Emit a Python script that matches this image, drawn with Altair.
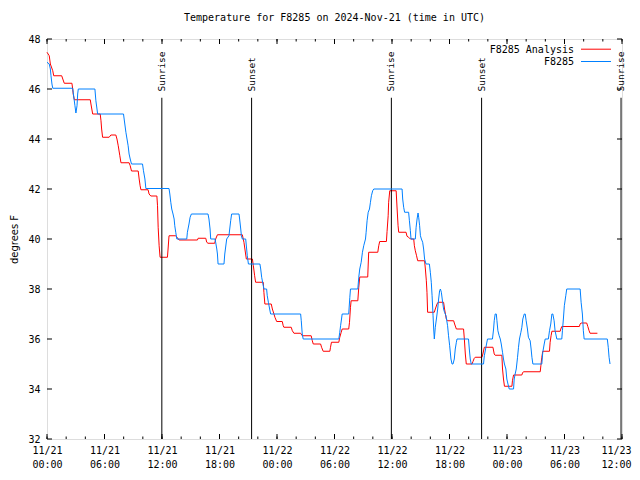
import json
import altair as alt
import pandas as pd

# ---- data (minutes since 2024-11-21 00:00 UTC, degrees F) ----
red_t = [0, 14, 21, 36, 42, 92, 108, 156, 161, 164, 171, 271, 275, 286, 333, 338, 342, 348, 389, 400,
         431, 438, 446, 456, 463, 514, 521, 529, 571, 577, 583, 588, 633, 639, 650, 688, 692, 696, 702, 708,
         754, 758, 764, 806, 827, 942, 946, 994, 1000, 1008, 1050, 1056, 1067, 1223, 1233, 1239, 1248, 1286,
         1292, 1300, 1306, 1354, 1358, 1364, 1404, 1411, 1421, 1427, 1438, 1473, 1479, 1483, 1529, 1536,
         1546, 1588, 1598, 1654, 1661, 1667, 1713, 1719, 1729, 1771, 1775, 1781, 1827, 1833, 1842, 1848,
         1889, 1894, 1900, 1904, 1946, 1952, 1958, 2008, 2014, 2071, 2077, 2083, 2125, 2129, 2136, 2139,
         2146, 2186, 2192, 2198, 2202, 2248, 2254, 2264, 2275, 2296, 2300, 2306, 2313, 2321, 2364, 2369,
         2375, 2379, 2383, 2425, 2431, 2442, 2448, 2483, 2489, 2500, 2508, 2546, 2552, 2563, 2608, 2613,
         2619, 2625, 2661, 2667, 2675, 2681, 2723, 2729, 2738, 2792, 2800, 2806, 2848, 2852, 2858, 2864,
         2911, 2914, 2921, 2973, 2977, 2983, 3088, 3092, 3098, 3104, 3146, 3150, 3156, 3161, 3213, 3217,
         3223, 3333, 3338, 3344, 3379, 3386, 3394, 3400, 3446]
red_v = [47.47, 47.33, 47.0, 46.73, 46.53, 46.53, 46.23, 46.23, 46.0, 45.8, 45.57, 45.57, 45.4, 45.0, 45.0,
         44.73, 44.4, 44.07, 44.07, 44.16, 44.16, 44.0, 43.73, 43.33, 43.05, 43.05, 42.93, 42.72, 42.72,
         42.4, 42.13, 41.97, 41.97, 41.8, 41.72, 41.72, 41.33, 40.47, 39.73, 39.27, 39.27, 39.6, 40.13,
         40.13, 39.96, 39.96, 40.03, 40.03, 39.87, 39.83, 39.83, 40.0, 40.17, 40.17, 39.87, 39.6, 39.2,
         39.2, 38.93, 38.53, 38.27, 38.27, 37.87, 37.4, 37.4, 37.2, 37.0, 36.87, 36.7, 36.7, 36.53, 36.47,
         36.47, 36.33, 36.23, 36.23, 36.13, 36.13, 35.93, 35.8, 35.8, 35.67, 35.51, 35.51, 35.67, 35.87,
         35.87, 36.07, 36.27, 36.4, 36.4, 36.67, 37.27, 37.53, 37.53, 38.07, 38.48, 38.48, 39.47, 39.47,
         39.73, 39.9, 39.9, 40.3, 40.93, 41.47, 41.93, 41.93, 41.2, 40.53, 40.27, 40.27, 40.11, 40.07,
         40.0, 40.0, 39.73, 39.53, 39.35, 39.13, 39.13, 38.8, 38.33, 37.87, 37.07, 37.07, 37.2, 37.4,
         37.47, 37.47, 37.2, 36.8, 36.73, 36.73, 36.6, 36.4, 36.4, 36.0, 35.4, 35.0, 35.0, 35.1, 35.23,
         35.27, 35.27, 35.4, 35.67, 35.67, 35.4, 35.35, 35.35, 34.8, 34.4, 34.11, 34.11, 34.33, 34.56,
         34.56, 34.64, 34.69, 34.69, 34.93, 35.27, 35.51, 35.51, 35.87, 36.13, 36.31, 36.31, 36.4, 36.5,
         36.5, 36.6, 36.64, 36.64, 36.5, 36.33, 36.23, 36.23]

blue_t = [0, 14, 21, 25, 31, 36, 161, 164, 175, 181, 188, 192, 196, 300, 306, 313, 317, 479, 483, 494,
          508, 514, 521, 529, 598, 604, 613, 619, 764, 769, 775, 781, 789, 796, 800, 806, 813, 875, 879,
          889, 896, 904, 1008, 1014, 1021, 1025, 1052, 1056, 1063, 1067, 1071, 1108, 1113, 1125, 1139,
          1144, 1150, 1156, 1202, 1206, 1213, 1217, 1223, 1244, 1250, 1254, 1261, 1333, 1338, 1344, 1352,
          1358, 1375, 1379, 1386, 1394, 1400, 1588, 1592, 1598, 1604, 1827, 1833, 1838, 1844, 1848, 1889,
          1896, 1900, 1946, 1952, 1958, 1967, 1975, 1983, 1994, 1998, 2004, 2011, 2019, 2025, 2031, 2039,
          2046, 2223, 2227, 2233, 2239, 2264, 2269, 2275, 2279, 2306, 2311, 2317, 2323, 2327, 2333, 2338,
          2344, 2352, 2358, 2364, 2373, 2394, 2400, 2406, 2411, 2417, 2421, 2425, 2431, 2438, 2446, 2452,
          2458, 2463, 2469, 2477, 2483, 2489, 2498, 2508, 2514, 2521, 2529, 2536, 2542, 2550, 2556, 2563,
          2567, 2639, 2644, 2650, 2656, 2733, 2738, 2748, 2758, 2789, 2796, 2800, 2806, 2813, 2817, 2823,
          2831, 2838, 2844, 2852, 2858, 2864, 2873, 2879, 2886, 2894, 2921, 2925, 2931, 2938, 2946, 2952,
          2958, 2967, 2973, 2979, 2988, 2994, 3000, 3008, 3014, 3025, 3031, 3036, 3042, 3098, 3104, 3113,
          3119, 3139, 3146, 3154, 3161, 3167, 3175, 3181, 3192, 3223, 3227, 3233, 3239, 3248, 3254, 3338,
          3344, 3352, 3358, 3363, 3508, 3514, 3519, 3525]
blue_v = [47.07, 47.0, 46.8, 46.53, 46.2, 46.03, 46.03, 45.87, 45.33, 45.04, 45.33, 45.8, 46.0, 46.0,
          45.53, 45.2, 45.0, 45.0, 44.8, 44.27, 43.73, 43.4, 43.2, 43.0, 43.0, 42.73, 42.4, 42.02, 42.02,
          41.8, 41.47, 41.2, 41.0, 40.8, 40.53, 40.27, 40.0, 40.0, 40.27, 40.6, 40.87, 41.0, 41.0, 40.8,
          40.4, 40.0, 40.0, 39.87, 39.6, 39.4, 39.0, 39.0, 39.4, 40.0, 40.13, 40.4, 40.73, 41.0, 41.0,
          40.8, 40.4, 40.13, 40.0, 40.0, 39.6, 39.33, 39.0, 39.0, 38.8, 38.47, 38.2, 38.0, 38.0, 37.73,
          37.47, 37.2, 37.0, 37.0, 36.73, 36.2, 36.0, 36.0, 36.27, 36.53, 36.8, 37.0, 37.0, 37.67, 38.0,
          38.0, 38.47, 38.8, 39.07, 39.47, 39.73, 40.0, 40.27, 40.73, 41.07, 41.2, 41.47, 41.73, 41.93,
          42.0, 42.0, 41.6, 41.27, 41.07, 41.07, 40.73, 40.33, 40.0, 40.0, 40.47, 40.8, 41.04, 40.87,
          40.53, 40.13, 40.0, 39.87, 39.6, 39.2, 39.0, 39.0, 38.67, 38.27, 37.73, 36.93, 36.4, 36.0,
          36.47, 36.8, 37.2, 37.6, 37.93, 38.0, 37.87, 37.47, 37.2, 37.07, 36.93, 36.53, 36.13, 35.73,
          35.2, 35.0, 35.0, 35.2, 35.6, 35.87, 36.0, 36.0, 35.6, 35.2, 35.0, 35.0, 35.33, 35.67, 36.0,
          36.0, 36.4, 36.73, 37.0, 37.0, 36.73, 36.33, 36.13, 36.0, 35.8, 35.47, 35.2, 35.0, 34.8, 34.4,
          34.2, 34.0, 34.0, 34.4, 34.6, 34.8, 35.27, 35.67, 36.0, 36.27, 36.47, 36.8, 37.0, 37.0, 36.73,
          36.4, 36.07, 35.93, 35.6, 35.27, 35.0, 35.0, 35.47, 35.8, 36.0, 36.0, 36.33, 36.6, 37.0, 37.0,
          36.73, 36.33, 36.0, 36.0, 36.33, 36.8, 37.33, 37.73, 38.0, 38.0, 37.47, 37.0, 36.33, 36.0,
          36.0, 35.67, 35.27, 35.0]

sun_t = [719, 1281, 2156, 2721, 3594]
sun_label = ["Sunrise", "Sunset", "Sunrise", "Sunset", "Sunrise"]

y_ticks = [32, 34, 36, 38, 40, 42, 44, 46, 48]
x_major = list(range(0, 3601, 360))
x_minor = list(range(0, 3601, 120))
x_labels = ["11/21 00:00", "11/21 06:00", "11/21 12:00", "11/21 18:00", "11/22 00:00",
            "11/22 06:00", "11/22 12:00", "11/22 18:00", "11/23 00:00", "11/23 06:00", "11/23 12:00"]

title_text = "Temperature for F8285 on 2024-Nov-21 (time in UTC)"
series = ["F8285 Analysis", "F8285"]
colors = ["#ff0000", "#0080ff"]

MONO = "DejaVu Sans Mono"
W, H = 575, 400

red_df = pd.DataFrame({"t": red_t, "v": red_v})
blue_df = pd.DataFrame({"t": blue_t, "v": blue_v})
sun_df = pd.DataFrame({"t": sun_t, "label": sun_label})
yt_df = pd.DataFrame({"v": y_ticks})
xmaj_df = pd.DataFrame({"t": x_major})
xmin_df = pd.DataFrame({"t": x_minor})

xscale = alt.Scale(domain=[0, 3600], nice=False, zero=False)
yscale = alt.Scale(domain=[32, 48], nice=False, zero=False)

label_expr = "split(" + json.dumps(x_labels) + "[round(datum.value/360)], ' ')"

x_axis = alt.Axis(values=x_major, labelExpr=label_expr, tickSize=0, ticks=False, domain=False, grid=False,
                  labelFont=MONO, labelFontSize=10, labelColor="black", labelPadding=6,
                  labelLineHeight=14, labelOverlap=False, labelFlush=False, title=None,
                  labelOffset={"condition": {"test": "datum.value >= 3600", "value": -6}, "value": 0})
y_axis = alt.Axis(values=y_ticks, format="d", tickSize=0, ticks=False, domain=False, grid=False,
                  labelFont=MONO, labelFontSize=10, labelColor="black", labelPadding=7,
                  title="degrees F", titleFont="DejaVu Sans", titleFontSize=10,
                  titleFontWeight="normal", titleColor="black", titlePadding=8)

X = alt.X("t:Q", scale=xscale)
Y = alt.Y("v:Q", scale=yscale)

red_line = alt.Chart(red_df).mark_line(color=colors[0], strokeWidth=1).encode(
    x=alt.X("t:Q", scale=xscale, axis=x_axis),
    y=alt.Y("v:Q", scale=yscale, axis=y_axis),
)
blue_line = alt.Chart(blue_df).mark_line(color=colors[1], strokeWidth=1).encode(x=X, y=Y)

sun_rules = alt.Chart(sun_df).mark_rule(color="black", strokeWidth=1).encode(
    x=X, y=alt.datum(32, scale=yscale), y2=alt.datum(45.65),
)
sun_text = alt.Chart(sun_df).mark_text(angle=270, align="left", baseline="middle", font=MONO,
                                       fontSize=9.5, color="black").encode(
    x=X, y=alt.datum(45.9, scale=yscale), text="label:N",
)

# inward ticks on all four sides
yt_left = alt.Chart(yt_df).mark_rule(color="black").encode(y=Y, x=alt.value(0), x2=alt.value(5))
yt_right = alt.Chart(yt_df).mark_rule(color="black").encode(y=Y, x=alt.value(W), x2=alt.value(W - 5))
xmaj_bot = alt.Chart(xmaj_df).mark_rule(color="black").encode(x=X, y=alt.value(H), y2=alt.value(H - 5))
xmaj_top = alt.Chart(xmaj_df).mark_rule(color="black").encode(x=X, y=alt.value(0), y2=alt.value(5))
xmin_bot = alt.Chart(xmin_df).mark_rule(color="black").encode(x=X, y=alt.value(H), y2=alt.value(H - 2.5))
xmin_top = alt.Chart(xmin_df).mark_rule(color="black").encode(x=X, y=alt.value(0), y2=alt.value(2.5))

# legend (gnuplot style: label left, sample line right)
leg = []
for i, (name, col) in enumerate(zip(series, colors)):
    d = pd.DataFrame({"name": [name]})
    yy = 11 + 12.3 * i
    leg.append(alt.Chart(d).mark_text(align="right", baseline="middle", font=MONO, fontSize=10,
                                      color="black").encode(
        text="name:N", x=alt.value(527), y=alt.value(yy)))
    leg.append(alt.Chart(d).mark_rule(color=col, strokeWidth=1).encode(
        x=alt.value(534), x2=alt.value(564), y=alt.value(yy - 0.8)))

chart = alt.layer(
    red_line, sun_rules, sun_text, blue_line,
    yt_left, yt_right, xmaj_bot, xmaj_top, xmin_bot, xmin_top, *leg
).properties(
    width=W, height=H,
    title=alt.TitleParams(title_text, font=MONO, fontSize=10, fontWeight="normal", color="black",
                          anchor="middle", offset=11),
    autosize=alt.AutoSizeParams(type="none"),
    padding={"left": 39, "top": 31, "right": 10, "bottom": 35},
).configure_view(stroke="black", strokeWidth=1).configure(background="white")

chart.save("out.html", embed_options={"renderer": "svg", "actions": False})
